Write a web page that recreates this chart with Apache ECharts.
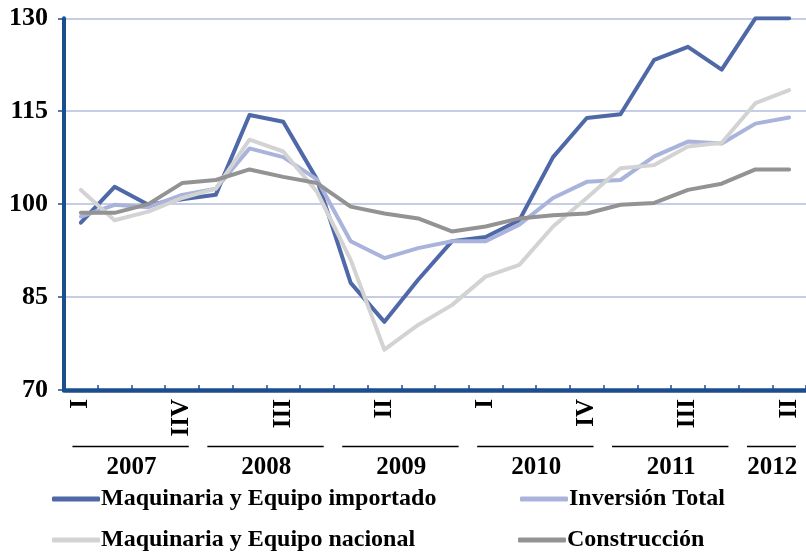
<!DOCTYPE html>
<html><head><meta charset="utf-8">
<script src="https://cdn.jsdelivr.net/npm/echarts@6/dist/echarts.min.js"></script>
<style>html,body{margin:0;padding:0;background:#fff}#c{width:806px;height:557px}</style>
</head><body><div id="c"></div>
<script>
// Quarter labels (only every third one is displayed, as in the source)
const quarterLabels = ['I','II','III','IIV','I','II','III','IV','I','II','III','IV','I','II','III','IV','I','II','III','IV','I','II'];
const years = ['2007','2008','2009','2010','2011','2012'];
const yearFirstQuarter = [0,4,8,12,16,20];
const yearLastQuarter = [3,7,11,15,19,21];
const yMin = 70, yMax = 130, yStep = 15;

const seriesNames = ['Maquinaria y Equipo importado','Inversión Total','Maquinaria y Equipo nacional','Construcción'];
const maqImportado = [97.0,102.8,99.9,100.8,101.5,114.4,113.3,104.0,87.3,81.0,87.8,94.0,94.7,97.4,107.6,113.9,114.5,123.3,125.4,121.7,130.0,130.0];
const inversionTotal = [98.0,99.9,99.5,101.5,102.5,109.0,107.6,104.0,94.0,91.3,92.9,94.0,94.0,96.7,101.0,103.6,103.9,107.7,110.1,109.8,113.0,114.0];
const maqNacional = [102.3,97.4,98.8,101.0,102.5,110.4,108.5,102.0,91.0,76.5,80.5,83.7,88.3,90.2,96.4,101.0,105.8,106.3,109.3,109.9,116.3,118.4];
const construccion = [98.6,98.6,100.0,103.4,103.9,105.6,104.4,103.4,99.6,98.5,97.7,95.6,96.4,97.7,98.2,98.5,99.9,100.2,102.3,103.3,105.6,105.6];
const seriesValues = [maqImportado, inversionTotal, maqNacional, construccion];
const seriesColors = ['#4F68A8','#A9B3DB','#D3D3D3','#939393'];

const FONT = 'Liberation Serif';
const AXIS = '#1C4E8E';
const txt = (size) => ({fontFamily: FONT, fontWeight: 'bold', fontSize: size, color: '#000'});

const yearCenters = years.map((y,i)=> (yearFirstQuarter[i]+yearLastQuarter[i])/2);

const chart = echarts.init(document.getElementById('c'), null, {renderer:'canvas'});
const legendPos = [[52,487],[520,487],[52,528],[518,528]];
chart.setOption({
  animation: false,
  grid: {left: 64, top: 18.3, width: 746, bottom: 167, containLabel: false},
  xAxis: [{
    type: 'category', data: quarterLabels, boundaryGap: true,
    axisLine: {show: true, onZero: false, lineStyle: {color: AXIS, width: 4.5}},
    axisTick: {show: true, inside: true, length: 5, interval: 0, lineStyle: {color: AXIS, width: 1.5}},
    axisLabel: Object.assign({interval: 2, rotate: 90, margin: 9}, txt(25)),
    splitLine: {show: false}
  },{
    type: 'value', min: -0.5, max: 21.5, position: 'bottom',
    axisLine: {show: false, onZero: false}, axisTick: {show: false}, splitLine: {show: false},
    axisLabel: Object.assign({margin: 65, customValues: yearCenters,
      formatter: v => { const i = yearCenters.indexOf(v); return i >= 0 ? years[i] : ''; }}, txt(25))
  }],
  yAxis: {
    type: 'value', min: yMin, max: yMax, interval: yStep, position: 'left',
    axisLine: {show: true, onZero: false, lineStyle: {color: AXIS, width: 4}},
    axisTick: {show: true, length: 6, lineStyle: {color: AXIS, width: 1.5}},
    axisLabel: Object.assign({margin: 16}, txt(26)),
    splitLine: {show: true, lineStyle: {color: '#B3BCDF', width: 1.5}}
  },
  legend: seriesNames.map((n,i)=>({
    data: [n], left: legendPos[i][0], top: legendPos[i][1], padding: 0,
    icon: 'roundRect', itemWidth: 48, itemHeight: 5, selectedMode: false,
    textStyle: Object.assign({padding: [0,0,0,-4]}, txt(24))
  })),
  series: seriesNames.map((n,i)=>({
    name: n, type: 'line', data: seriesValues[i], xAxisIndex: 0,
    showSymbol: false, symbol: 'none', smooth: false,
    lineStyle: {color: seriesColors[i], width: 4, cap: 'round', join: 'round'},
    itemStyle: {color: seriesColors[i]}
  }))
});

// Year separator segments under the quarter labels, positioned with the axis scale
const baseY = chart.convertToPixel({yAxisIndex: 0}, yMin);
const segY = Math.round(baseY + 56) + 0.5;
chart.setOption({
  graphic: years.map((y,i)=>{
    const x1 = chart.convertToPixel({xAxisIndex: 1}, yearFirstQuarter[i] - 0.25);
    const x2 = chart.convertToPixel({xAxisIndex: 1}, yearLastQuarter[i] + 0.2);
    return {type: 'line', shape: {x1: x1, y1: segY, x2: x2, y2: segY}, style: {stroke: '#000', lineWidth: 1.5}};
  })
});
</script></body></html>
